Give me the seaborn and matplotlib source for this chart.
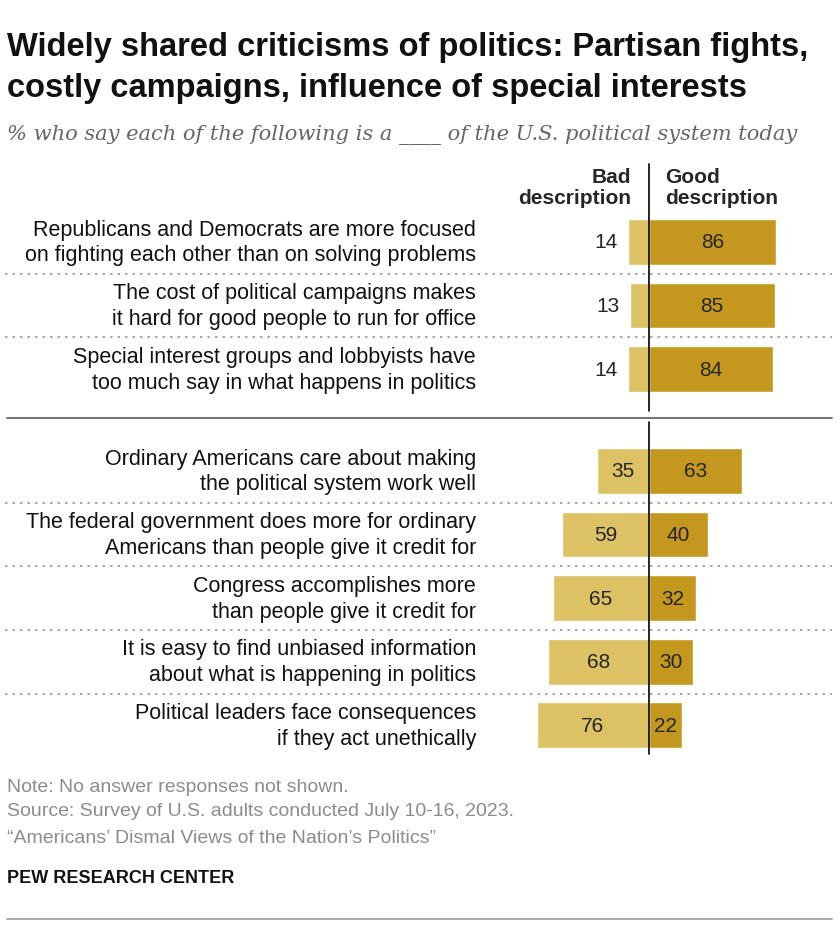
import numpy as np
import pandas as pd
import matplotlib
matplotlib.use("Agg")
import matplotlib.pyplot as plt
import seaborn as sns

# data
statements = [
    "Republicans and Democrats are more focused\non fighting each other than on solving problems",
    "The cost of political campaigns makes\nit hard for good people to run for office",
    "Special interest groups and lobbyists have\ntoo much say in what happens in politics",
    "Ordinary Americans care about making\nthe political system work well",
    "The federal government does more for ordinary\nAmericans than people give it credit for",
    "Congress accomplishes more\nthan people give it credit for",
    "It is easy to find unbiased information\nabout what is happening in politics",
    "Political leaders face consequences\nif they act unethically",
]
bad = [14, 13, 14, 35, 59, 65, 68, 76]
good = [86, 85, 84, 63, 40, 32, 30, 22]
section = [0, 0, 0, 1, 1, 1, 1, 1]

LIGHT = "#DCC264"
DARK = "#C4981E"
GREY = "#8c8c8c"

W, H = 840, 928
ZERO_PX, PX_PER = 649, 1.48
ROW0_PX, ROW_PX = 243, 63.6
GAP = 0.6

pos = [i + GAP * s for i, s in enumerate(section)]
df = pd.DataFrame({"pos": pos, "bad": [-b for b in bad], "good": good})

sns.set_style("white")
plt.rcParams["font.family"] = ["Liberation Sans", "DejaVu Sans"]

fig = plt.figure(figsize=(W / 100, H / 100), dpi=100)
ax = fig.add_axes([0, 0, 1, 1])
ax.set_xlim(-ZERO_PX / PX_PER, (W - ZERO_PX) / PX_PER)
ax.set_ylim((H - ROW0_PX) / ROW_PX, -ROW0_PX / ROW_PX)
ax.axis("off")

sns.barplot(data=df, x="bad", y="pos", orient="y", native_scale=True,
            color=LIGHT, width=0.72, saturation=1, ax=ax)
sns.barplot(data=df, x="good", y="pos", orient="y", native_scale=True,
            color=DARK, width=0.72, saturation=1, ax=ax)


def px(x, y):
    return x / W, 1 - y / H


def fy(row):
    return ROW0_PX + row * ROW_PX


# values and labels
FS = 15.5
for p, b, g, s, lab in zip(pos, bad, good, section, statements):
    ax.text((476 - ZERO_PX) / PX_PER, p, lab, ha="right", va="center",
            fontsize=FS, linespacing=1.3, color="#111111")
    if b < 20:
        ax.text(-b - 7, p, str(b), ha="right", va="center", fontsize=15)
    else:
        ax.text(-b / 2, p, str(b), ha="center", va="center", fontsize=15)
    ax.text(g / 2, p, str(g), ha="center", va="center", fontsize=15)

# dotted separators within sections
for a, b_ in zip(pos[:-1], pos[1:]):
    if abs(b_ - a - 1) < 1e-6:
        y = (a + b_) / 2
        fig.add_artist(plt.Line2D([5 / W, 832 / W], [1 - fy(y) / H] * 2,
                                  color="#9a9a9a", lw=1.2, ls=(0, (1.5, 3))))

# solid divider between sections
mid = (pos[2] + pos[3]) / 2
fig.add_artist(plt.Line2D([7 / W, 832 / W], [1 - (fy(mid) - 2) / H] * 2,
                          color="#666666", lw=1.3))

# zero line segments
fig.add_artist(plt.Line2D([ZERO_PX / W] * 2, [1 - 165 / H, 1 - 412 / H],
                          color="black", lw=1.2))
fig.add_artist(plt.Line2D([ZERO_PX / W] * 2, [1 - 423 / H, 1 - 755 / H],
                          color="black", lw=1.2))

# column headers
fig.text(*px(631, 188), "Bad\ndescription", ha="right", va="center",
         fontsize=15, fontweight="bold", linespacing=1.1)
fig.text(*px(665, 188), "Good\ndescription", ha="left", va="center",
         fontsize=15, fontweight="bold", linespacing=1.1)

# title and subtitle
fig.text(*px(7, 68), "Widely shared criticisms of politics: Partisan fights,\n"
         "costly campaigns, influence of special interests",
         ha="left", va="center", fontsize=23.5, fontweight="bold",
         linespacing=1.45, color="#111111")
fig.text(*px(7, 135), "% who say each of the following is a ____ of the U.S. political system today",
         ha="left", va="center", fontsize=15.1, style="italic", color="#666666",
         family=["DejaVu Serif"])

# notes
fig.text(*px(7, 788), "Note: No answer responses not shown.", ha="left", va="center",
         fontsize=14, color=GREY)
fig.text(*px(7, 812), "Source: Survey of U.S. adults conducted July 10-16, 2023.",
         ha="left", va="center", fontsize=14, color=GREY)
fig.text(*px(7, 839), "\u201cAmericans\u2019 Dismal Views of the Nation\u2019s Politics\u201d",
         ha="left", va="center", fontsize=14, color=GREY)
fig.text(*px(7, 879), "PEW RESEARCH CENTER", ha="left", va="center",
         fontsize=13, fontweight="bold", color="#111111")
fig.add_artist(plt.Line2D([7 / W, 832 / W], [1 - 920 / H] * 2, color="#999999", lw=1.2))

fig.savefig("out.png", dpi=100)
